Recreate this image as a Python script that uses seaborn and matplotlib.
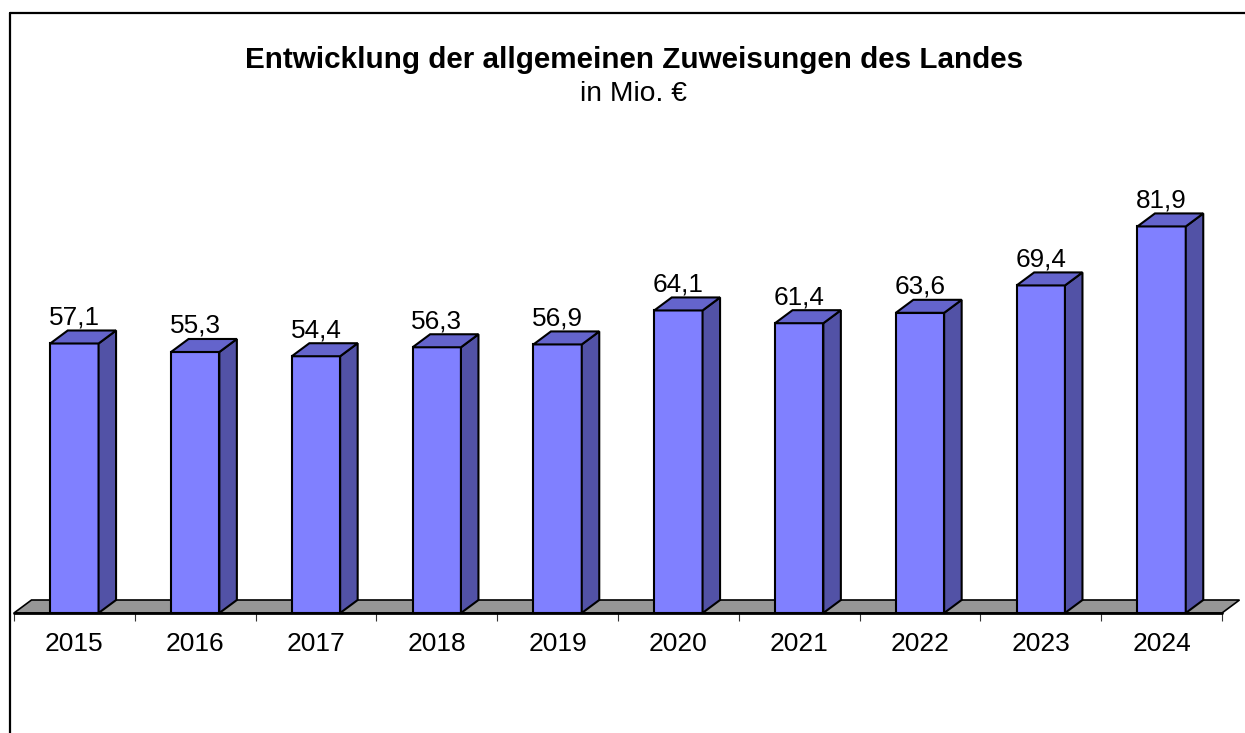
import matplotlib
matplotlib.use("Agg")
import matplotlib.pyplot as plt
from matplotlib.patches import Polygon
from matplotlib.lines import Line2D
import seaborn as sns
import pandas as pd
import numpy as np

years = ["2015", "2016", "2017", "2018", "2019", "2020", "2021", "2022", "2023", "2024"]
values = [57.1, 55.3, 54.4, 56.3, 56.9, 64.1, 61.4, 63.6, 69.4, 81.9]
labels = ["57,1", "55,3", "54,4", "56,3", "56,9", "64,1", "61,4", "63,6", "69,4", "81,9"]
title = "Entwicklung der allgemeinen Zuweisungen des Landes"
subtitle = "in Mio. €"

sns.set_theme(style="white")
plt.rcParams["font.family"] = ["Liberation Sans", "DejaVu Sans"]
plt.rcParams["text.color"] = "black"
plt.rcParams["xtick.color"] = "black"
plt.rcParams["xtick.labelcolor"] = "black"

W, H = 1245, 733
fig = plt.figure(figsize=(W / 100, H / 100), dpi=100)
# axes: x from px 14 to 1222, y=0 at px 613, ylim 0..100 spanning 472 px
ax = fig.add_axes([14 / W, (H - 613) / H, 1208 / W, 472 / H])

df = pd.DataFrame({"year": years, "value": values})
sns.barplot(data=df, x="year", y="value", color="#8080FF", saturation=1,
            width=0.4, edgecolor="black", linewidth=1.5, ax=ax, zorder=3)

ax.set_xlim(-0.5, 9.5)
ax.set_ylim(0, 100)

# 3D depth offsets in data units
px_x = 1208 / 10.0
px_y = 472 / 100.0
dx = 17.5 / px_x
dy = 13.0 / px_y

# floor
floor = Polygon([(-0.5, 0), (9.5, 0), (9.5 + dx, dy), (-0.5 + dx, dy)],
                closed=True, facecolor="#969696", edgecolor="black",
                linewidth=1.2, zorder=1, clip_on=False)
ax.add_patch(floor)
ax.plot([-0.5, 9.5], [0, 0], color="black", linewidth=2, zorder=2, clip_on=False)

for p, lab in zip(ax.patches[:len(values)], labels):
    x0 = p.get_x()
    w = p.get_width()
    h = p.get_height()
    x1 = x0 + w
    side = Polygon([(x1, 0), (x1 + dx, dy), (x1 + dx, h + dy), (x1, h)], closed=True,
                   facecolor="#5252A6", edgecolor="black", linewidth=1.5, zorder=3,
                   clip_on=False)
    top = Polygon([(x0, h), (x1, h), (x1 + dx, h + dy), (x0 + dx, h + dy)], closed=True,
                  facecolor="#6464CC", edgecolor="black", linewidth=1.5, zorder=3,
                  clip_on=False)
    ax.add_patch(side)
    ax.add_patch(top)
    ax.text(x0 + w / 2, h + dy + 1.3, lab, ha="center", va="baseline",
            fontsize=18.8, color="black", zorder=5)

for s in ax.spines.values():
    s.set_visible(False)
ax.set_yticks([])
ax.set_xlabel("")
ax.set_ylabel("")
ax.set_xticks(range(len(years)))
ax.set_xticklabels(years, fontsize=19, color="black")
ax.set_xticks(np.arange(-0.5, 10, 1.0), minor=True)
ax.tick_params(axis="x", which="major", length=0, pad=14)
ax.tick_params(axis="x", which="minor", length=5.5, width=0.8, color="#333333",
               direction="out", bottom=True)
ax.patch.set_alpha(0)

fig.text(634 / W, 1 - 60 / H, title, ha="center", va="center",
         fontsize=21.3, fontweight="bold", color="black")
fig.text(633 / W, 1 - 94 / H, subtitle, ha="center", va="center", fontsize=20.3,
         color="black")

# figure border (left and top)
fig.add_artist(Line2D([10 / W, 10 / W], [0, 1 - 12.5 / H], transform=fig.transFigure,
                      color="black", linewidth=1.6))
fig.add_artist(Line2D([10 / W, 1], [1 - 12.5 / H, 1 - 12.5 / H], transform=fig.transFigure,
                      color="black", linewidth=1.6))

fig.savefig("out.png", dpi=100, facecolor="white")
